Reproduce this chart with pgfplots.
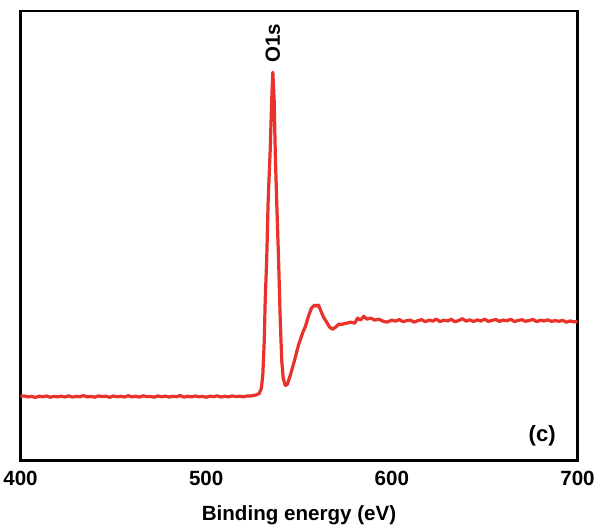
\documentclass[border=0pt]{standalone}
\usepackage{pgfplots}
\pgfplotsset{compat=1.18}
\usepackage{fontspec}
\setmainfont{Liberation Sans}
\definecolor{xpsred}{RGB}{232,50,42}
\begin{document}
\begin{tikzpicture}
\begin{axis}[
  name=ax,
  scale only axis,
  width=555pt, height=448pt,
  xmin=400, xmax=700, ymin=0, ymax=448,
  xtick={400,500,600,700},
  ytick=\empty,
  major tick length=0pt,
  axis line style={line width=2.6pt},
  tick label style={font=\fontsize{20.5}{24}\selectfont\bfseries},
  /pgf/number format/assume math mode=true,
  xticklabel style={yshift=-7pt},
  xlabel={Binding energy (eV)},
  xlabel style={font=\fontsize{20.5}{24}\selectfont\bfseries, yshift=-13pt},
  clip=false,
]
\addplot[color=xpsred, line width=3.2pt, line join=round] coordinates {
(400,64)(402,64.5)(404,63.5)(406,64)(408,63)(410,64.2)(412,63.6)(414,64.4)(416,63.2)(418,64)
(420,63.5)(422,64.3)(424,63.4)(426,64.6)(428,63.3)(430,64.1)(432,63.7)(434,64.8)(436,63.5)(438,64)
(440,63.2)(442,64.5)(444,63.8)(446,64.2)(448,63.1)(450,64.4)(452,63.6)(454,64.1)(456,63.4)(458,64.7)
(460,63.5)(462,64.2)(464,63.3)(466,64.6)(468,63.8)(470,64)(472,63.2)(474,64.5)(476,63.6)(478,64.3)
(480,63.4)(482,64.1)(484,63.7)(486,64.9)(488,63.3)(490,64.2)(492,63.5)(494,64.4)(496,63.6)(498,64)
(500,63.2)(502,64.3)(504,63.7)(506,64.6)(508,63.4)(510,64.1)(512,63.5)(514,64.5)(516,63.8)(518,64.2)
(520,63.6)(522,64.4)(524.3,64.5)(527,65.5)(528.6,67)(529.7,72)(530.5,85)(531.3,120)(531.8,160)
(532.6,200)(533.4,260)(534.5,310)(535.3,360)(535.9,387)(536.6,360)(537.3,300)(538.3,240)(539,200)
(539.9,140)(540.7,100)(541.5,82)(542.6,75)(543.7,76)(545.3,85)(547.6,100)(549.7,115)(551.9,127)
(553.5,134)(555.1,144)(556.7,152)(558.4,155)(559.5,154)(560.5,155)(561.6,150)(563.2,143)(564.9,138)
(566.5,133)(568.1,131)(569.7,133)(571.4,136)(573.5,136)(575.7,137)(577.8,138)(580,137)(581.6,142)
(583.2,140)(584.9,144)(586.5,141)(588.6,142)(590.8,140)(593,141)(595.1,139)(597.3,138)(600,140)
(602,139)(604,140.5)(606,138.5)(608,139.5)(610,140)(612,138)(614,139.5)(616,140.5)(618,138.5)(620,140)
(622,139)(624,141)(626,138.5)(628,140)(630,139.2)(632,140.8)(634,138.4)(636,139.6)(638,141.5)(640,139)
(642,140.3)(644,138.6)(646,140.2)(648,139.1)(650,141)(652,138.7)(654,139.8)(656,140.6)(658,138.8)(660,140.1)
(662,139.3)(664,140.9)(666,138.6)(668,139.7)(670,140.4)(672,138.9)(674,139.6)(676,140.7)(678,138.5)(680,139.9)
(682,139.2)(684,140.3)(686,138.8)(688,139.5)(690,138.9)(692,139.8)(694,137.9)(696,139.2)(698,138.3)(700,138.5)
};
\node[rotate=90, anchor=west, font=\fontsize{20.5}{24}\selectfont\bfseries] at (axis cs:535.9,393) {O1s};
\node[font=\fontsize{22}{26}\selectfont\bfseries] at (axis cs:681,25) {(c)};
\end{axis}
\path ([yshift=11pt]ax.north);
\end{tikzpicture}
\end{document}
